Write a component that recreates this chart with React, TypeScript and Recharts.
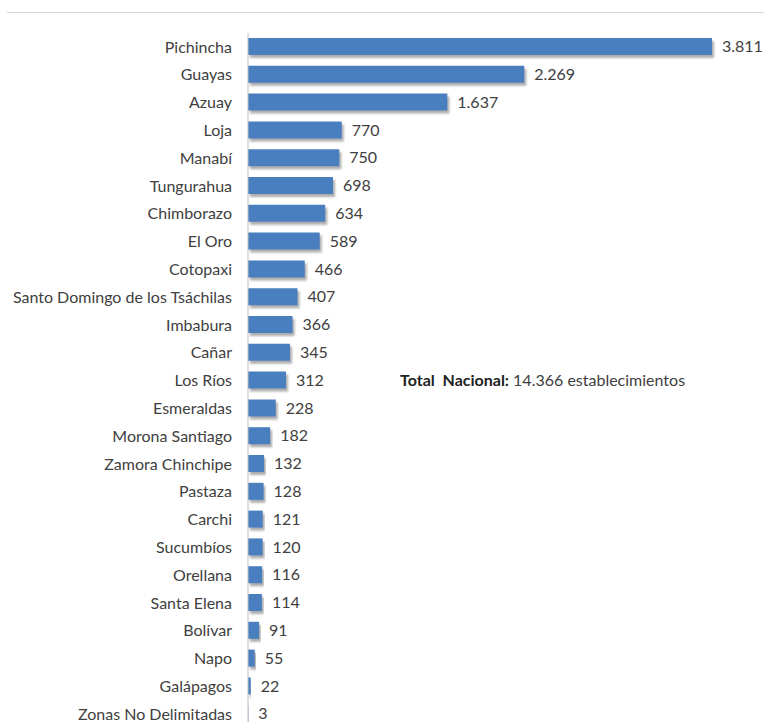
import { BarChart, Bar, XAxis, YAxis, LabelList } from 'recharts'

const provincias = [
  'Pichincha', 'Guayas', 'Azuay', 'Loja', 'Manabí', 'Tungurahua', 'Chimborazo',
  'El Oro', 'Cotopaxi', 'Santo Domingo de los Tsáchilas', 'Imbabura', 'Cañar',
  'Los Ríos', 'Esmeraldas', 'Morona Santiago', 'Zamora Chinchipe', 'Pastaza',
  'Carchi', 'Sucumbíos', 'Orellana', 'Santa Elena', 'Bolívar', 'Napo',
  'Galápagos', 'Zonas No Delimitadas'
]

const establecimientos = [
  3811, 2269, 1637, 770, 750, 698, 634, 589, 466, 407, 366, 345, 312, 228,
  182, 132, 128, 121, 120, 116, 114, 91, 55, 22, 3
]

const totalNacional = '14.366'

const data = provincias.map((p, i) => ({ provincia: p, valor: establecimientos[i] }))

const fmt = (v: any) => String(v).replace(/\B(?=(\d{3})+(?!\d))/g, '.')

const font = 'Lato, "Open Sans", sans-serif'

export default function App() {
  return (
    <div style={{ position: 'relative', width: 764, height: 722, overflow: 'hidden', fontFamily: font }}>
      <style>{'html { overflow: hidden; } body { margin: 0; }'}</style>
      <div style={{ position: 'absolute', left: 7, top: 12, width: 757, height: 0, borderTop: '1px solid #d4d4d4' }} />
      <div style={{ position: 'absolute', left: 8, top: 8 }}>
        <BarChart
          width={756}
          height={722}
          data={data}
          layout="vertical"
          margin={{ top: 25, right: 52, left: 0, bottom: 2 }}
          barSize={17}
        >
          <defs>
            <filter id="sombra" x="-5%" y="-30%" width="115%" height="180%">
              <feDropShadow dx="2" dy="3" stdDeviation="1.2" floodColor="#777" floodOpacity="0.6" />
            </filter>
          </defs>
          <XAxis type="number" domain={[0, 3811]} hide />
          <YAxis
            type="category"
            dataKey="provincia"
            width={240}
            interval={0}
            tickSize={14}
            tickMargin={2}
            tickLine={false}
            axisLine={{ stroke: '#bfbfbf' }}
            tick={{ fontSize: 16, fill: '#404040', fontFamily: font }}
          />
          <Bar
            dataKey="valor"
            fill="#4a7ebf"
            isAnimationActive={false}
            style={{ filter: 'url(#sombra)' }}
          >
            <LabelList
              dataKey="valor"
              position="right"
              offset={10}
              formatter={fmt}
              style={{ fontSize: 16, fill: '#404040', fontFamily: font }}
            />
          </Bar>
        </BarChart>
      </div>
      <div style={{ position: 'absolute', left: 400, top: 370, fontSize: 16, color: '#404040', whiteSpace: 'nowrap' }}>
        <b style={{ color: '#222' }}>Total&nbsp; Nacional:</b> {totalNacional} establecimientos
      </div>
    </div>
  )
}
